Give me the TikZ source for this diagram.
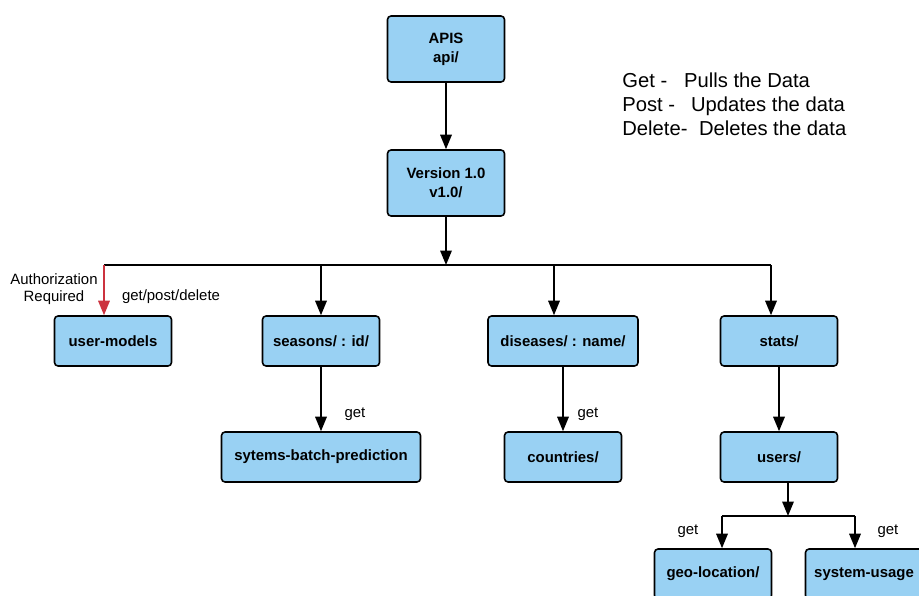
\documentclass[tikz,border=0pt]{standalone}
\usepackage{fontspec}
\setmainfont{Liberation Sans}
\usetikzlibrary{arrows.meta}
\definecolor{boxblue}{RGB}{153,209,243}
\definecolor{authred}{RGB}{204,51,63}
\tikzset{
	endpoint/.style={draw=black, fill=boxblue, line width=0.9pt, rounded corners=2pt,
		minimum width=2.34cm, minimum height=1cm, align=center,
		font=\bfseries\fontsize{8.5}{11}\selectfont},
	link/.style={line width=1pt, -{Triangle[length=2.9mm,width=2.3mm]}},
	bar/.style={line width=1pt},
	note/.style={align=center, font=\fontsize{8.5}{10}\selectfont}
}
\begin{document}
\begin{tikzpicture}[x=0.02cm,y=-0.02cm]
	\useasboundingbox (0,0) rectangle (919,595);
	\clip (0,0) rectangle (919,595);
	% boxes
	\node [endpoint, minimum height=1.32cm] (apis) at (446,49) {APIS\\api/};
	\node [endpoint, minimum height=1.32cm] (version) at (446,183) {Version 1.0\\v1.0/};
	\node [endpoint] (usermodels) at (113,341) {user-models};
	\node [endpoint] (seasons) at (321,341) {seasons/ : id/};
	\node [endpoint, minimum width=3cm] (diseases) at (563,341) {diseases/ : name/};
	\node [endpoint] (stats) at (779,341) {stats/};
	\node [endpoint, minimum width=3.98cm] (batch) at (321,457) {sytems-batch-prediction};
	\node [endpoint] (countries) at (563,457) {countries/};
	\node [endpoint] (users) at (779,457) {users/};
	\node [endpoint] (geo) at (713,574) {geo-location/};
	\node [endpoint] (usage) at (864,574) {system-usage};
	% forks
	\coordinate (fork) at (446,265);
	\coordinate (forkl) at (104,265);
	\coordinate (forkd) at (554,265);
	\coordinate (forkr) at (771,265);
	\coordinate (ufork) at (788,516);
	\coordinate (uforkl) at (722,516);
	\coordinate (uforkr) at (855,516);
	\draw [link] (apis) -- (version);
	\draw [link] (version) -- (fork);
	\draw [bar] (forkl) -- (forkr);
	\draw [link, authred] (forkl) -- (forkl |- usermodels.north);
	\draw [link] (seasons.north |- fork) -- (seasons);
	\draw [link] (forkd) -- (forkd |- diseases.north);
	\draw [link] (forkr) -- (forkr |- stats.north);
	\draw [link] (seasons) -- (batch);
	\draw [link] (diseases.south -| countries) -- (countries);
	\draw [link] (stats) -- (users);
	\draw [link] (users.south -| ufork) -- (ufork);
	\draw [bar] (uforkl) -- (uforkr);
	\draw [link] (uforkl) -- (uforkl |- geo.north);
	\draw [link] (uforkr) -- (uforkr |- usage.north);
	% labels
	\node [note] (auth) at (54,289) {Authorization\\Required};
	\node [note] (gpd) at (171,297) {get/post/delete};
	\node [note] (getbatch) at (355,414) {get};
	\node [note] (getcountries) at (588,414) {get};
	\node [note] (getgeo) at (688,531) {get};
	\node [note] (getusage) at (888,531) {get};
	\node [anchor=west, align=left, inner sep=0pt, font=\fontsize{11.5}{13.6}\selectfont] (legend) at (622,104)
	{\makebox[35.2pt][l]{Get -}Pulls the Data\\
	 \makebox[39.1pt][l]{Post -}Updates the data\\
	 \makebox[43.7pt][l]{Delete-}Deletes the data};
\end{tikzpicture}
\end{document}
